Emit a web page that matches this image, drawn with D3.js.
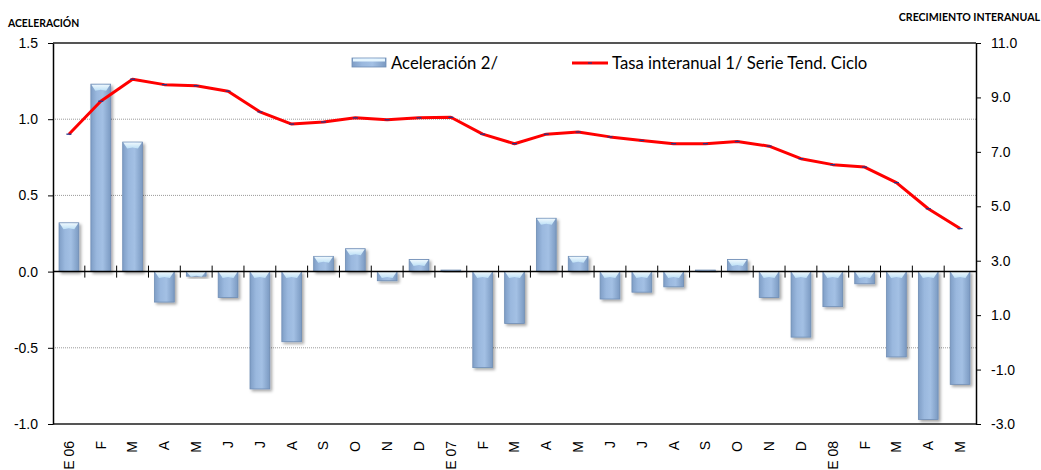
<!DOCTYPE html>
<html>
<head>
<meta charset="utf-8">
<script src="https://cdn.jsdelivr.net/npm/d3@7"></script>
<style>
  body { margin: 0; background: #fff; }
  svg { display: block; }
</style>
</head>
<body>
<div id="chart"></div>
<script>
var months = ["E 06","F","M","A","M","J","J","A","S","O","N","D",
              "E 07","F","M","A","M","J","J","A","S","O","N","D",
              "E 08","F","M","A","M"];

// Aceleración 2/ (left axis)
var aceleracion = [0.32, 1.23, 0.85, -0.20, -0.03, -0.17, -0.77, -0.46, 0.10, 0.15, -0.06, 0.08,
                   0.01, -0.63, -0.34, 0.35, 0.10, -0.18, -0.135, -0.10, 0.01, 0.08, -0.17, -0.43,
                   -0.23, -0.08, -0.56, -0.97, -0.74];

// Tasa interanual 1/ Serie Tend. Ciclo (right axis)
var tasa = [7.65, 8.86, 9.67, 9.47, 9.43, 9.23, 8.47, 8.02, 8.10, 8.25, 8.18, 8.25,
            8.27, 7.65, 7.30, 7.65, 7.73, 7.55, 7.42, 7.30, 7.30, 7.38, 7.21, 6.75,
            6.53, 6.44, 5.87, 4.91, 4.18];

var leftTicks = [-1.0, -0.5, 0.0, 0.5, 1.0, 1.5];
var rightTicks = [-3, -1, 1, 3, 5, 7, 9, 11];
var gridTicks = [-0.5, 0.5, 1.0];

(function () {

var W = 1041, H = 470,
    x0 = 53, x1 = 976, yTop = 43, yBot = 424,
    numfont = "'Liberation Sans', Arial, sans-serif",
    legfont = "Lato, 'Open Sans', sans-serif";

var x = d3.scaleBand()
      .domain(d3.range(months.length))
      .range([x0, x1])
      .paddingInner(0.38)
      .paddingOuter(0.19);

var yL = d3.scaleLinear().domain([-1, 1.5]).range([yBot, yTop]);
var yR = d3.scaleLinear().domain([-3, 11]).range([yBot, yTop]);

var svg = d3.select("#chart").append("svg")
      .attr("width", W)
      .attr("height", H);

/* gradients and shadow */
var defs = svg.append("defs");
var g1 = defs.append("linearGradient").attr("id", "barfill")
      .attr("x1", 0).attr("x2", 1).attr("y1", 0).attr("y2", 0);
g1.append("stop").attr("offset", "0%").attr("stop-color", "#7f9ec6");
g1.append("stop").attr("offset", "30%").attr("stop-color", "#9ab8de");
g1.append("stop").attr("offset", "60%").attr("stop-color", "#a3c0e4");
g1.append("stop").attr("offset", "100%").attr("stop-color", "#7b9ac2");

var g2 = defs.append("linearGradient").attr("id", "bevel")
      .attr("x1", 0).attr("x2", 0).attr("y1", 0).attr("y2", 1);
g2.append("stop").attr("offset", "0%").attr("stop-color", "#f2fbff");
g2.append("stop").attr("offset", "100%").attr("stop-color", "#bfe2f7");

var sh = defs.append("filter").attr("id", "shadow")
      .attr("x", "-20%").attr("y", "-20%").attr("width", "160%").attr("height", "160%");
sh.append("feDropShadow").attr("dx", 2).attr("dy", 2)
  .attr("stdDeviation", 1.5).attr("flood-color", "#000").attr("flood-opacity", 0.35);

/* gridlines */
svg.selectAll(".grid")
  .data(gridTicks)
  .enter().append("line")
  .attr("class", "grid")
  .attr("x1", x0).attr("x2", x1)
  .attr("y1", yL).attr("y2", yL)
  .style("stroke", "#9a9a9a")
  .style("stroke-width", 1)
  .style("stroke-dasharray", "1,1");

/* frame top / bottom */
svg.append("line").attr("x1", x0).attr("x2", x1).attr("y1", yTop).attr("y2", yTop)
  .style("stroke", "#555").style("stroke-width", 2);
svg.append("line").attr("x1", x0).attr("x2", x1).attr("y1", yBot).attr("y2", yBot)
  .style("stroke", "#555").style("stroke-width", 2);

/* bars */
var bars = svg.selectAll(".bar")
      .data(aceleracion)
      .enter().append("g")
      .attr("class", "bar")
      .style("filter", "url(#shadow)");

bars.append("rect")
  .attr("x", function(d, i) { return x(i); })
  .attr("y", function(d) { return Math.min(yL(d), yL(0)); })
  .attr("width", x.bandwidth())
  .attr("height", function(d) { return Math.max(1, Math.abs(yL(d) - yL(0))); })
  .style("fill", "url(#barfill)")
  .style("stroke", "#6e8db5")
  .style("stroke-width", 0.8);

bars.append("path")
  .attr("d", function(d, i) {
    var h = Math.abs(yL(d) - yL(0)),
        b = Math.min(6, h),
        xa = x(i) + 0.5, xb = x(i) + x.bandwidth() - 0.5,
        yt = Math.min(yL(d), yL(0)) + 0.5,
        mid = (xa + xb) / 2;
    if (h < 3) return "";
    return "M" + xa + "," + yt + "L" + xb + "," + yt +
           "L" + (xb - 4) + "," + (yt + b) + "L" + (mid) + "," + (yt + b - 1) +
           "L" + (xa + 4) + "," + (yt + b) + "Z";
  })
  .style("fill", "url(#bevel)")
  .style("opacity", 0.95);

/* left axis */
var laxis = svg.append("g")
      .attr("transform", "translate(" + x0 + ",0)")
      .call(d3.axisLeft(yL).tickValues(leftTicks)
            .tickFormat(function(d) { return d.toFixed(1); })
            .tickSize(5).tickSizeOuter(0).tickPadding(10));
laxis.select(".domain").style("stroke", "#000").style("stroke-width", 1.5);
laxis.selectAll(".tick line").style("stroke", "#000");
laxis.selectAll("text").style("font", "14px " + numfont).style("fill", "#000");

/* right axis */
var raxis = svg.append("g")
      .attr("transform", "translate(" + x1 + ",0)")
      .call(d3.axisRight(yR).tickValues(rightTicks)
            .tickFormat(function(d) { return d.toFixed(1); })
            .tickSize(5).tickSizeOuter(0).tickPadding(10));
raxis.select(".domain").style("stroke", "#000").style("stroke-width", 1.5);
raxis.selectAll(".tick line").style("stroke", "#000");
raxis.selectAll("text").style("font", "14px " + numfont).style("fill", "#000");

/* category axis crossing at zero */
svg.append("line")
  .attr("x1", x0).attr("x2", x1)
  .attr("y1", yL(0)).attr("y2", yL(0))
  .style("stroke", "#000").style("stroke-width", 1.5);

svg.selectAll(".xtick")
  .data(d3.range(1, months.length))
  .enter().append("line")
  .attr("class", "xtick")
  .attr("x1", function(i) { return x(i) - x.step() * x.paddingInner() / 2; })
  .attr("x2", function(i) { return x(i) - x.step() * x.paddingInner() / 2; })
  .attr("y1", yL(0) - 6)
  .attr("y2", yL(0) + 6)
  .style("stroke", "#000")
  .style("stroke-width", 1);

svg.selectAll(".xlabel")
  .data(months)
  .enter().append("text")
  .attr("class", "xlabel")
  .attr("transform", function(d, i) {
    return "translate(" + (x(i) + x.bandwidth() / 2) + "," + 441 + ") rotate(-90)";
  })
  .attr("dy", "0.35em")
  .attr("text-anchor", "end")
  .style("font", "14px " + numfont)
  .text(function(d) { return d; });

/* line */
var line = d3.line()
      .x(function(d, i) { return x(i) + x.bandwidth() / 2; })
      .y(function(d) { return yR(d); });

svg.append("path")
  .datum(tasa)
  .attr("d", line)
  .style("fill", "none")
  .style("stroke", "#ff0000")
  .style("stroke-width", 3)
  .style("stroke-linejoin", "round");

svg.selectAll(".mark")
  .data(tasa)
  .enter().append("line")
  .attr("class", "mark")
  .attr("x1", function(d, i) { return x(i) + x.bandwidth() / 2 - 2.5; })
  .attr("x2", function(d, i) { return x(i) + x.bandwidth() / 2 + 2.5; })
  .attr("y1", yR).attr("y2", yR)
  .style("stroke", "#23348a")
  .style("stroke-width", 1.3);

/* legend */
var leg = svg.append("g");
leg.append("rect")
  .attr("x", 352).attr("y", 58).attr("width", 34).attr("height", 9)
  .style("fill", "url(#barfill)").style("stroke", "#6e8db5").style("stroke-width", 0.8);
leg.append("rect")
  .attr("x", 353).attr("y", 58.5).attr("width", 32).attr("height", 3)
  .style("fill", "#e6f6ff");
leg.append("text")
  .attr("x", 391).attr("y", 69)
  .style("font", "16.7px " + legfont)
  .text("Aceleración 2/");

leg.append("line")
  .attr("x1", 572).attr("x2", 608).attr("y1", 63).attr("y2", 63)
  .style("stroke", "#ff0000").style("stroke-width", 3);
leg.append("line")
  .attr("x1", 588).attr("x2", 592).attr("y1", 63).attr("y2", 63)
  .style("stroke", "#23348a").style("stroke-width", 1.3);
leg.append("text")
  .attr("x", 612).attr("y", 69)
  .style("font", "16.7px " + legfont)
  .text("Tasa interanual 1/ Serie Tend. Ciclo");

/* axis titles */
svg.append("text")
  .attr("x", 8).attr("y", 27)
  .style("font", "bold 10.4px " + legfont)
  .text("ACELERACIÓN");
svg.append("text")
  .attr("x", 1040).attr("y", 21)
  .attr("text-anchor", "end")
  .style("font", "bold 10.6px " + legfont)
  .text("CRECIMIENTO INTERANUAL");

})();
</script>
</body>
</html>
